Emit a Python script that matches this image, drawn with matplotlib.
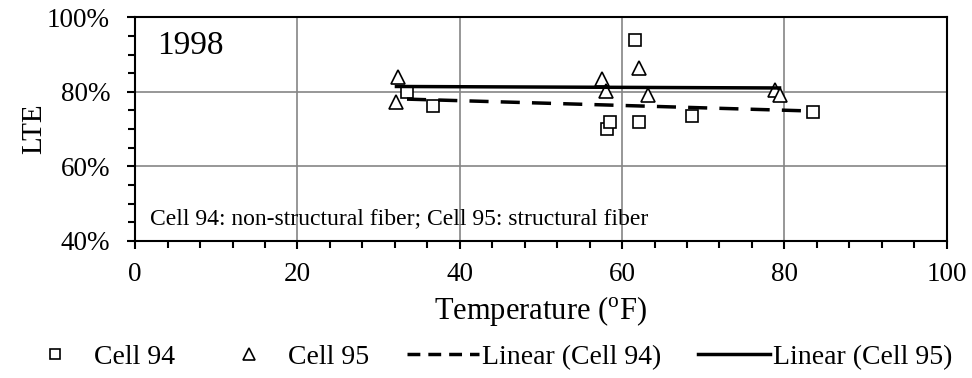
import matplotlib
matplotlib.use('Agg')
import matplotlib.pyplot as plt
from matplotlib.ticker import MultipleLocator, PercentFormatter
from matplotlib.lines import Line2D
import numpy as np

plt.rcParams['font.family'] = ['Liberation Serif', 'DejaVu Serif']
plt.rcParams['mathtext.fontset'] = 'custom'
plt.rcParams['mathtext.rm'] = 'Liberation Serif'

# Cell 94: non-structural fiber
temp_94 = [33.5, 36.7, 58.2, 58.5, 61.6, 62.1, 68.6, 83.5]
lte_94 = [80.0, 76.2, 69.9, 71.8, 93.9, 71.9, 73.6, 74.6]

# Cell 95: structural fiber
temp_95 = [32.2, 32.4, 57.5, 58.0, 62.1, 63.2, 78.8, 79.4]
lte_95 = [77.3, 83.9, 83.4, 80.2, 86.3, 79.1, 80.5, 79.1]

year_label = '1998'
note = 'Cell 94: non-structural fiber; Cell 95: structural fiber'

fig = plt.figure(figsize=(9.72, 3.78), dpi=100)
ax = fig.add_axes([0.139, 0.363, 0.835, 0.591])

ax.plot(temp_94, lte_94, 's', markersize=8, markerfacecolor='white',
        markeredgecolor='black', markeredgewidth=1.2, zorder=3)
ax.plot(temp_95, lte_95, '^', markersize=10, markerfacecolor='white',
        markeredgecolor='black', markeredgewidth=1.2, zorder=3)

# linear trendlines over each data range
for t, v, style in [(temp_94, lte_94, '--'), (temp_95, lte_95, '-')]:
    k, b = np.polyfit(t, v, 1)
    xs = np.array([min(t), max(t)])
    line, = ax.plot(xs, k * xs + b, style, color='black', linewidth=2.5, zorder=4)
    if style == '--':
        line.set_dashes((5.5, 3.5))

ax.set_xlim(0, 100)
ax.set_ylim(40, 100)
ax.xaxis.set_major_locator(MultipleLocator(20))
ax.xaxis.set_minor_locator(MultipleLocator(4))
ax.yaxis.set_major_locator(MultipleLocator(20))
ax.yaxis.set_minor_locator(MultipleLocator(5))
ax.yaxis.set_major_formatter(PercentFormatter(decimals=0))
ax.grid(True, which='major', color='#858585', linewidth=1.2)
ax.set_axisbelow(True)
for s in ax.spines.values():
    s.set_linewidth(1.5)
ax.tick_params(which='both', direction='out', width=1.5, labelsize=19.5)
ax.tick_params(which='major', length=6)
ax.tick_params(which='minor', length=5)
ax.tick_params(axis='y', which='major', pad=12)
ax.tick_params(axis='x', which='major', pad=9)

ax.set_xlabel(r'Temperature ($^\mathregular{o}$F)', fontsize=22, labelpad=5)
ax.set_ylabel('LTE', fontsize=21, labelpad=0)

ax.text(0.027, 0.875, year_label, transform=ax.transAxes, fontsize=24, va='center')
ax.text(0.018, 0.10, note, transform=ax.transAxes, fontsize=17, va='center')

handles = [
    Line2D([], [], marker='s', linestyle='none', markersize=7, markerfacecolor='white',
           markeredgecolor='black', markeredgewidth=1.2),
    Line2D([], [], marker='^', linestyle='none', markersize=8, markerfacecolor='white',
           markeredgecolor='black', markeredgewidth=1.2),
    Line2D([], [], color='black', linewidth=2.5, dashes=(3.7, 2.3)),
    Line2D([], [], color='black', linewidth=2.5),
]
labels = ['Cell 94', 'Cell 95', 'Linear (Cell 94)', 'Linear (Cell 95)']
fig.legend(handles, labels, loc='center', bbox_to_anchor=(0.50, 0.055), ncol=4,
           frameon=False, fontsize=20, handlelength=2.6, handletextpad=0.1,
           columnspacing=1.35)

fig.savefig('out.png', dpi=100)
